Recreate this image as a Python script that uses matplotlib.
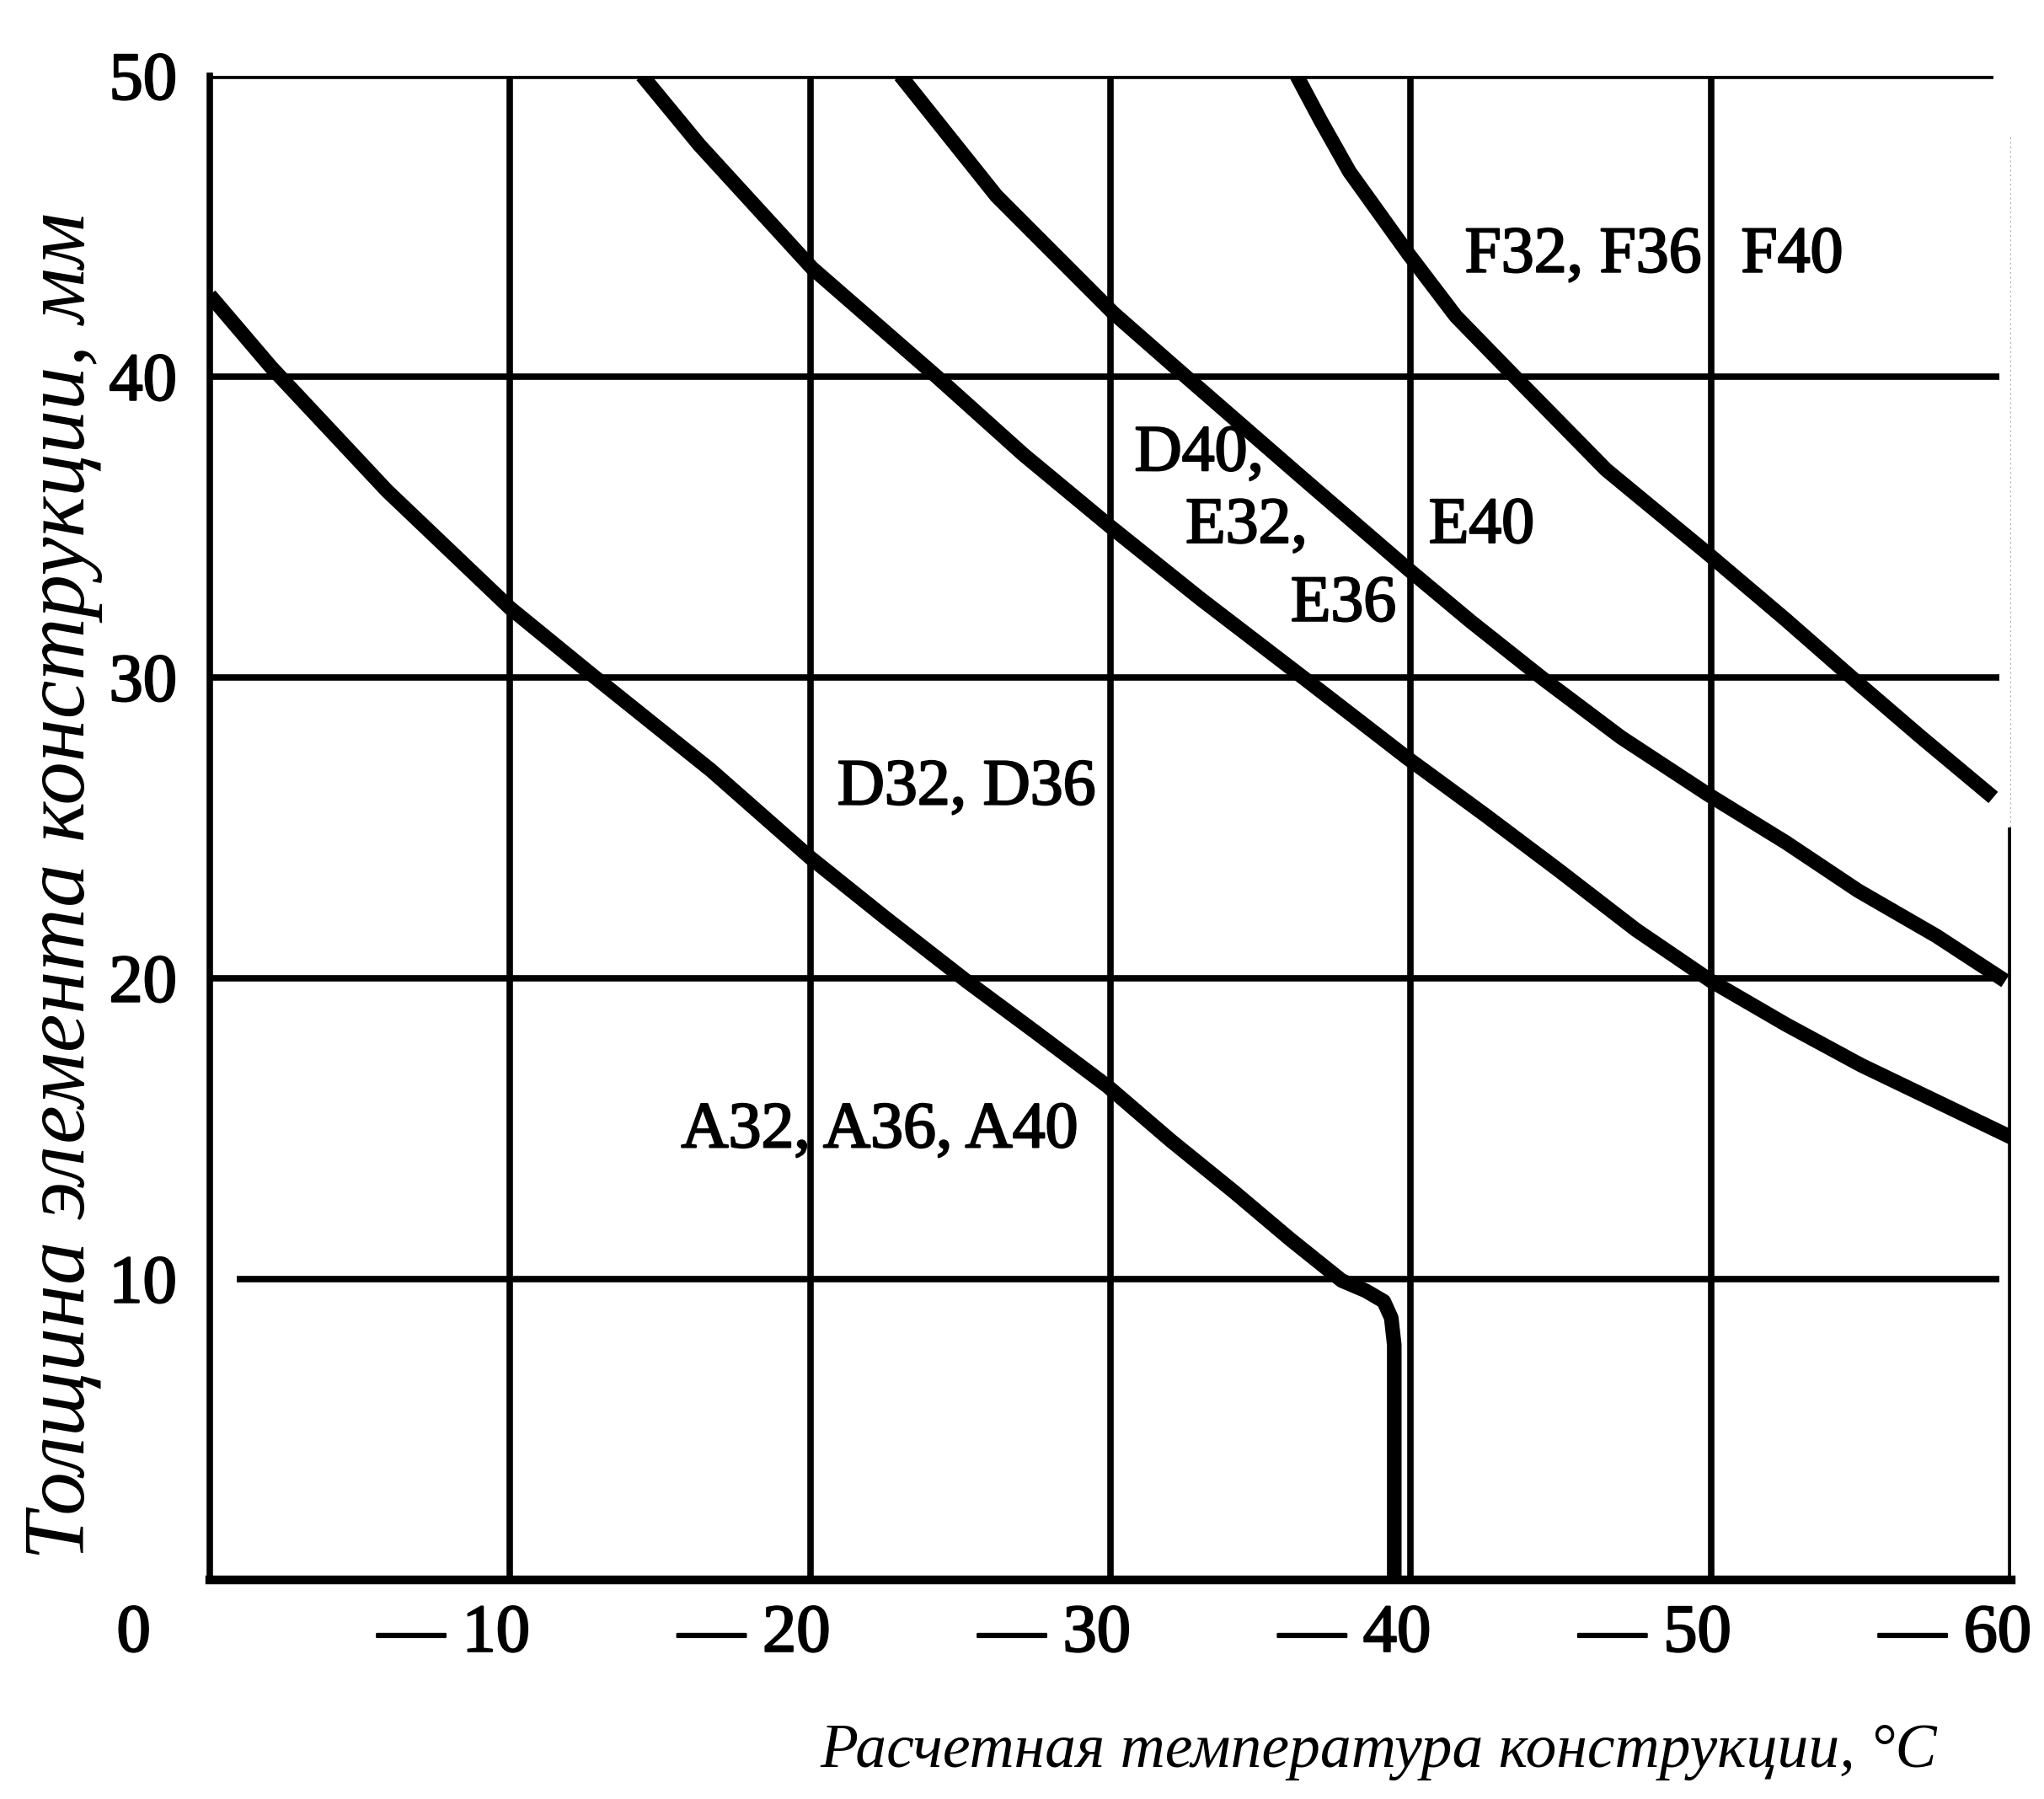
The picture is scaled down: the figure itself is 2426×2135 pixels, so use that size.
import numpy as np
import matplotlib
matplotlib.use("Agg")
import matplotlib.pyplot as plt
import matplotlib.transforms as mtransforms
import matplotlib.patheffects as pe

plt.rcParams['font.family'] = ['Liberation Serif', 'DejaVu Serif']

# temperature (deg C, negative) and thickness (mm)
a_temp = [0, -2.05, -5.9, -10, -12.7, -16.7, -20, -22.5, -25.2, -27.5, -29.9, -32, -34.1,
          -36, -37.7, -38.5, -39.1, -39.35, -39.45, -39.45]
a_thk = [42.7, 40.3, 36.2, 32.3, 30.1, 26.9, 24.0, 22.0, 19.9, 18.2, 16.4, 14.6, 12.9,
         11.3, 9.94, 9.6, 9.25, 8.7, 7.8, 0.0]

d_temp = [-14.4, -16.3, -20.06, -24.2, -27.1, -30.0, -33.0, -36.4, -39.9, -42.5, -44.9,
          -47.5, -50, -52.5, -55, -57.5, -60]
d_thk = [50.0, 47.7, 43.6, 40.0, 37.4, 35.0, 32.6, 30.0, 27.3, 25.4, 23.6,
         21.6, 19.9, 18.45, 17.1, 15.9, 14.7]

e_temp = [-23.0, -26.2, -30.1, -32.5, -36.3, -39.9, -42.0, -44.4, -47.0, -49.9, -52.5,
          -54.9, -57.5, -59.8]
e_thk = [50.0, 46.0, 42.1, 40.0, 36.7, 33.6, 31.85, 29.95, 28.0, 26.1, 24.5,
         22.9, 21.4, 19.9]

f_temp = [-36.2, -37.0, -37.96, -39.9, -41.5, -43.5, -46.5, -49.9, -52.5, -54.9, -57.0, -59.4]
f_thk = [50.0, 48.5, 46.8, 44.1, 42.0, 39.95, 36.9, 34.1, 31.9, 29.8, 28.0, 26.0]

x_ticks = [0, -10, -20, -30, -40, -50, -60]
x_tick_labels = ['0', '— 10', '— 20', '— 30', '— 40', '— 50', '— 60']
y_ticks = [10, 20, 30, 40, 50]
y_tick_labels = ['10', '20', '30', '40', '50']

grade_labels = ['F32, F36', 'F40', 'D40,', 'E32,', 'E36', 'E40', 'D32, D36', 'A32, A36, A40']
label_temp = [-41.8, -51.0, -30.8, -32.5, -36.0, -40.6, -20.9, -15.7]
label_thk = [44.0, 44.0, 37.4, 35.0, 32.4, 35.0, 26.3, 14.9]

fig = plt.figure(figsize=(24.26, 21.35), dpi=100)
ax = fig.add_axes([0.1026, 0.122, 0.8814, 0.836])

ax.set_xlim(0, -60)
ax.set_ylim(0, 50)

grid_lw = 5.5
heavy = [pe.withStroke(linewidth=1.6, foreground='black')]

# grid lines
for t in x_ticks[1:]:
    top = 50 if t != -60 else 25
    ax.plot([t, t], [0, top], color='black', lw=grid_lw, solid_capstyle='butt', zorder=1)
ax.plot([-60, -60], [25, 48], color='#aaaaaa', lw=1.5, ls=':', zorder=1)
for y in y_ticks[:-1]:
    x0 = -0.9 if y == 10 else 0
    ax.plot([x0, -59.6], [y, y], color='black', lw=grid_lw, solid_capstyle='butt', zorder=1)
ax.plot([0, -59.4], [50, 50], color='black', lw=grid_lw, solid_capstyle='butt', zorder=1)

for s in ['top', 'right']:
    ax.spines[s].set_visible(False)
ax.spines['left'].set_linewidth(grid_lw)
ax.spines['bottom'].set_linewidth(7.5)

# curves
for xs, ys in [(a_temp, a_thk), (d_temp, d_thk), (e_temp, e_thk), (f_temp, f_thk)]:
    ax.plot(xs, ys, color='black', lw=12.5, solid_capstyle='butt', solid_joinstyle='round', zorder=3)

for txt, tx, ty in zip(grade_labels, label_temp, label_thk):
    ax.text(tx, ty, txt, fontsize=56, ha='left', va='center', zorder=4, path_effects=heavy)

ax.set_xticks(x_ticks)
ax.set_xticklabels(x_tick_labels, fontsize=58, ha='right')
ax.set_yticks(y_ticks)
ax.set_yticklabels(y_tick_labels, fontsize=58)
ax.tick_params(axis='both', length=0)
ax.tick_params(axis='x', pad=21)
ax.tick_params(axis='y', pad=28)

for i, lbl in enumerate(ax.get_xticklabels()):
    dx = -70 if i == 0 else 24
    lbl.set_transform(lbl.get_transform() + mtransforms.Affine2D().translate(dx, 0))
    lbl.set_path_effects(heavy)
for lbl in ax.get_yticklabels():
    lbl.set_path_effects(heavy)

fig.text(0.6744, 0.026, 'Расчетная температура конструкции, °С', fontsize=53,
         style='italic', ha='center', va='center')
fig.text(0.031, 0.5077, 'Толщина элемента конструкции, мм', fontsize=74,
         style='italic', rotation=90, ha='center', va='center')

fig.savefig('out.png', dpi=100)
